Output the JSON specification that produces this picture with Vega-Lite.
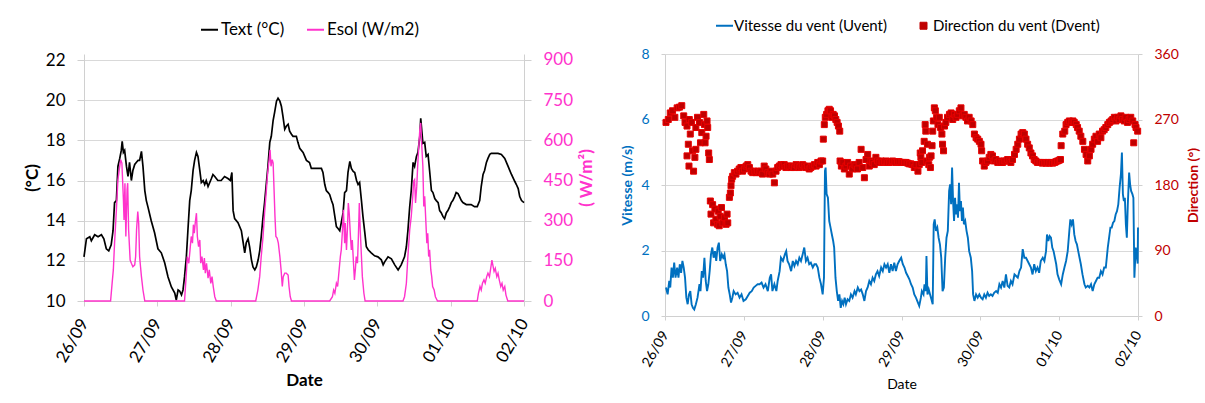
{
  "$schema": "https://vega.github.io/schema/vega-lite/v6.json",
  "padding": {"left": 23, "top": 18, "right": 4, "bottom": 4},
  "background": "white",
  "config": {
    "font": "Lato",
    "view": {"stroke": null},
    "axis": {"gridColor": "#d9d9d9", "domainColor": "#d0d0d0", "tickColor": "#d0d0d0", "labelColor": "#000000", "titleColor": "#000000"}
  },
  "datasets": {
    "temp": [
      {"h":0,"T":12.2},{"h":0.8,"T":13.1},{"h":1.9,"T":13.2},{"h":2.4,"T":13.0},{"h":3.5,"T":13.3},{"h":4.6,"T":13.2},{"h":5.7,"T":13.3},{"h":6.5,"T":13.1},{"h":7.3,"T":12.6},{"h":8.1,"T":12.5},{"h":8.9,"T":12.8},{"h":9.5,"T":13.5},{"h":10.0,"T":14.9},{"h":10.6,"T":15.0},{"h":11.1,"T":16.7},{"h":11.7,"T":17.1},{"h":12.2,"T":17.5},{"h":12.5,"T":17.95},{"h":12.9,"T":17.4},{"h":13.3,"T":17.5},{"h":13.9,"T":16.7},{"h":14.4,"T":16.2},{"h":14.9,"T":16.9},{"h":15.5,"T":16.0},{"h":16.0,"T":16.5},{"h":16.6,"T":16.8},{"h":17.1,"T":16.9},{"h":17.7,"T":17.0},{"h":18.2,"T":17.0},{"h":18.8,"T":17.45},{"h":19.3,"T":16.7},{"h":19.9,"T":15.5},{"h":20.4,"T":15.0},{"h":20.9,"T":14.7},{"h":22.0,"T":14.0},{"h":23.1,"T":13.4},{"h":24.2,"T":12.6},{"h":25.3,"T":12.4},{"h":26.4,"T":11.9},{"h":27.5,"T":11.2},{"h":28.6,"T":10.7},{"h":29.7,"T":10.4},{"h":30.2,"T":10.05},{"h":30.8,"T":10.55},{"h":31.3,"T":10.5},{"h":31.9,"T":10.3},{"h":32.4,"T":10.55},{"h":32.9,"T":11.2},{"h":33.5,"T":12.2},{"h":34.0,"T":13.5},{"h":34.6,"T":15.0},{"h":35.1,"T":15.5},{"h":35.7,"T":16.5},{"h":36.2,"T":17.0},{"h":36.8,"T":17.4},{"h":37.3,"T":17.2},{"h":37.9,"T":16.5},{"h":38.4,"T":15.9},{"h":39.0,"T":16.0},{"h":39.5,"T":15.8},{"h":40.0,"T":16.0},{"h":40.6,"T":15.7},{"h":41.7,"T":16.1},{"h":42.2,"T":16.3},{"h":42.8,"T":16.2},{"h":43.8,"T":16.0},{"h":44.9,"T":16.0},{"h":46.0,"T":16.2},{"h":47.1,"T":16.1},{"h":47.9,"T":16.0},{"h":48.4,"T":16.4},{"h":48.8,"T":14.5},{"h":49.3,"T":14.1},{"h":50.4,"T":13.9},{"h":51.5,"T":13.5},{"h":52.0,"T":13.0},{"h":52.6,"T":12.4},{"h":53.1,"T":12.9},{"h":53.7,"T":13.1},{"h":54.2,"T":12.7},{"h":54.8,"T":12.05},{"h":55.3,"T":11.7},{"h":55.9,"T":11.55},{"h":56.4,"T":11.7},{"h":57.0,"T":12.05},{"h":57.5,"T":12.5},{"h":58.0,"T":13.2},{"h":58.6,"T":14.2},{"h":59.1,"T":14.9},{"h":59.7,"T":15.9},{"h":60.2,"T":16.7},{"h":60.8,"T":17.9},{"h":61.3,"T":18.2},{"h":61.9,"T":19.0},{"h":62.4,"T":19.4},{"h":63.0,"T":19.95},{"h":63.5,"T":20.1},{"h":64.1,"T":19.95},{"h":64.6,"T":19.7},{"h":65.1,"T":19.2},{"h":65.7,"T":18.55},{"h":66.2,"T":18.7},{"h":66.8,"T":18.8},{"h":67.3,"T":18.45},{"h":67.9,"T":18.3},{"h":68.4,"T":18.2},{"h":69.5,"T":18.2},{"h":70.0,"T":17.9},{"h":70.6,"T":17.6},{"h":71.7,"T":17.4},{"h":72.8,"T":17.0},{"h":73.8,"T":16.9},{"h":74.4,"T":16.6},{"h":77.7,"T":16.6},{"h":78.2,"T":16.4},{"h":78.8,"T":15.8},{"h":79.3,"T":15.5},{"h":79.9,"T":15.4},{"h":80.4,"T":15.3},{"h":81.0,"T":15.0},{"h":81.5,"T":14.8},{"h":82.1,"T":14.2},{"h":82.6,"T":13.7},{"h":83.2,"T":13.6},{"h":83.7,"T":13.5},{"h":84.2,"T":13.9},{"h":84.8,"T":14.4},{"h":85.3,"T":15.4},{"h":85.9,"T":15.5},{"h":86.4,"T":16.4},{"h":87.0,"T":16.95},{"h":87.5,"T":16.6},{"h":88.1,"T":16.45},{"h":88.6,"T":16.4},{"h":89.2,"T":16.0},{"h":89.7,"T":15.8},{"h":90.2,"T":15.9},{"h":90.8,"T":15.0},{"h":91.3,"T":14.2},{"h":91.9,"T":13.4},{"h":92.4,"T":12.7},{"h":93.0,"T":12.55},{"h":94.0,"T":12.4},{"h":95.1,"T":12.25},{"h":96.2,"T":12.2},{"h":97.3,"T":12.05},{"h":97.9,"T":11.8},{"h":98.4,"T":11.95},{"h":99.5,"T":12.2},{"h":100.6,"T":12.1},{"h":101.7,"T":11.8},{"h":102.8,"T":11.55},{"h":103.8,"T":11.8},{"h":104.9,"T":12.2},{"h":105.5,"T":12.7},{"h":106.0,"T":13.5},{"h":106.6,"T":14.7},{"h":107.1,"T":15.5},{"h":107.7,"T":16.9},{"h":108.2,"T":16.7},{"h":108.8,"T":17.2},{"h":109.3,"T":17.4},{"h":109.9,"T":18.2},{"h":110.2,"T":19.1},{"h":110.6,"T":18.4},{"h":110.9,"T":17.85},{"h":111.5,"T":17.9},{"h":112.0,"T":17.2},{"h":112.6,"T":17.3},{"h":113.1,"T":16.5},{"h":113.7,"T":15.5},{"h":114.2,"T":15.4},{"h":114.8,"T":15.1},{"h":115.3,"T":15.0},{"h":115.9,"T":14.9},{"h":116.4,"T":14.5},{"h":116.9,"T":14.4},{"h":117.5,"T":14.2},{"h":118.0,"T":14.1},{"h":118.6,"T":14.4},{"h":119.1,"T":14.5},{"h":119.7,"T":14.7},{"h":120.2,"T":14.9},{"h":120.7,"T":15.0},{"h":121.3,"T":15.2},{"h":121.8,"T":15.4},{"h":122.4,"T":15.35},{"h":122.9,"T":15.2},{"h":123.5,"T":15.0},{"h":124.0,"T":14.9},{"h":125.1,"T":14.8},{"h":126.7,"T":14.8},{"h":127.8,"T":14.7},{"h":128.7,"T":14.7},{"h":129.5,"T":15.0},{"h":130.0,"T":15.7},{"h":130.6,"T":16.3},{"h":131.1,"T":16.5},{"h":131.7,"T":16.9},{"h":132.2,"T":17.1},{"h":132.8,"T":17.3},{"h":133.3,"T":17.35},{"h":135.5,"T":17.35},{"h":136.6,"T":17.3},{"h":137.7,"T":17.1},{"h":138.8,"T":16.7},{"h":139.9,"T":16.3},{"h":141.0,"T":15.95},{"h":141.5,"T":15.8},{"h":142.1,"T":15.6},{"h":142.6,"T":15.2},{"h":143.2,"T":15.0},{"h":144.0,"T":14.9}
    ],
    "esol": [
      {"h":0,"E":0},{"h":8.7,"E":0},{"h":9.2,"E":66},{"h":9.6,"E":116},{"h":10.0,"E":216},{"h":10.6,"E":340},{"h":11.1,"E":453},{"h":11.7,"E":503},{"h":12.0,"E":528},{"h":12.4,"E":515},{"h":12.9,"E":378},{"h":13.1,"E":303},{"h":13.4,"E":440},{"h":13.7,"E":241},{"h":14.1,"E":416},{"h":14.3,"E":440},{"h":14.6,"E":266},{"h":15.1,"E":153},{"h":15.5,"E":141},{"h":16.0,"E":128},{"h":16.6,"E":135},{"h":16.9,"E":166},{"h":17.2,"E":266},{"h":17.6,"E":334},{"h":17.9,"E":291},{"h":18.2,"E":166},{"h":18.5,"E":128},{"h":18.8,"E":91},{"h":19.3,"E":41},{"h":19.9,"E":0},
      {"h":32.9,"E":0},{"h":33.5,"E":104},{"h":33.8,"E":166},{"h":34.3,"E":141},{"h":34.7,"E":191},{"h":35.1,"E":241},{"h":35.5,"E":216},{"h":35.8,"E":285},{"h":36.1,"E":253},{"h":36.4,"E":291},{"h":36.8,"E":328},{"h":37.1,"E":241},{"h":37.5,"E":203},{"h":37.9,"E":228},{"h":38.2,"E":141},{"h":38.6,"E":166},{"h":39.1,"E":116},{"h":39.4,"E":160},{"h":39.7,"E":104},{"h":40.1,"E":141},{"h":40.6,"E":85},{"h":41.0,"E":116},{"h":41.5,"E":66},{"h":41.9,"E":91},{"h":42.3,"E":54},{"h":42.8,"E":16},{"h":43.3,"E":0},
      {"h":56.2,"E":0},{"h":56.9,"E":41},{"h":57.5,"E":91},{"h":58.0,"E":166},{"h":58.6,"E":241},{"h":59.1,"E":328},{"h":59.7,"E":416},{"h":60.1,"E":478},{"h":60.6,"E":528},{"h":60.9,"E":565},{"h":61.2,"E":503},{"h":61.6,"E":528},{"h":61.9,"E":515},{"h":62.2,"E":416},{"h":62.5,"E":316},{"h":62.8,"E":241},{"h":63.2,"E":235},{"h":63.6,"E":216},{"h":64.1,"E":166},{"h":64.5,"E":116},{"h":64.9,"E":54},{"h":65.2,"E":91},{"h":65.7,"E":104},{"h":66.2,"E":104},{"h":66.8,"E":97},{"h":67.1,"E":54},{"h":67.5,"E":16},{"h":67.9,"E":0},
      {"h":80.4,"E":0},{"h":81.3,"E":16},{"h":81.7,"E":41},{"h":82.1,"E":29},{"h":82.6,"E":66},{"h":83.0,"E":54},{"h":83.5,"E":116},{"h":83.9,"E":166},{"h":84.2,"E":191},{"h":84.6,"E":266},{"h":84.9,"E":341},{"h":85.3,"E":216},{"h":85.5,"E":291},{"h":85.9,"E":191},{"h":86.2,"E":266},{"h":86.5,"E":366},{"h":86.8,"E":328},{"h":87.2,"E":241},{"h":87.5,"E":191},{"h":87.8,"E":228},{"h":88.2,"E":141},{"h":88.5,"E":79},{"h":88.8,"E":116},{"h":89.1,"E":166},{"h":89.5,"E":141},{"h":89.8,"E":241},{"h":90.1,"E":366},{"h":90.4,"E":266},{"h":90.8,"E":166},{"h":91.1,"E":91},{"h":91.6,"E":29},{"h":92.0,"E":0},
      {"h":104.4,"E":0},{"h":104.9,"E":16},{"h":105.5,"E":66},{"h":106.0,"E":166},{"h":106.6,"E":266},{"h":107.1,"E":316},{"h":107.6,"E":391},{"h":107.9,"E":447},{"h":108.2,"E":453},{"h":108.5,"E":366},{"h":108.9,"E":428},{"h":109.2,"E":503},{"h":109.5,"E":565},{"h":109.9,"E":640},{"h":110.2,"E":665},{"h":110.5,"E":590},{"h":110.9,"E":503},{"h":111.2,"E":353},{"h":111.5,"E":391},{"h":111.9,"E":291},{"h":112.2,"E":216},{"h":112.5,"E":253},{"h":112.8,"E":166},{"h":113.1,"E":191},{"h":113.5,"E":116},{"h":113.8,"E":91},{"h":114.1,"E":54},{"h":114.6,"E":41},{"h":115.0,"E":16},{"h":115.7,"E":0},
      {"h":128.7,"E":0},{"h":129.1,"E":29},{"h":129.6,"E":54},{"h":130.0,"E":41},{"h":130.4,"E":66},{"h":130.9,"E":79},{"h":131.3,"E":66},{"h":131.8,"E":91},{"h":132.2,"E":104},{"h":132.7,"E":91},{"h":133.1,"E":122},{"h":133.5,"E":153},{"h":133.9,"E":128},{"h":134.2,"E":110},{"h":134.6,"E":122},{"h":135.1,"E":91},{"h":135.5,"E":104},{"h":135.9,"E":79},{"h":136.4,"E":54},{"h":136.8,"E":66},{"h":137.2,"E":41},{"h":137.7,"E":54},{"h":138.1,"E":22},{"h":138.7,"E":0},{"h":144,"E":0}
    ],
    "vit": [
      {"h":0.3,"V":0.87},{"h":0.8,"V":0.66},{"h":1.3,"V":1.07},{"h":1.6,"V":0.87},{"h":2.0,"V":1.48},{"h":2.4,"V":1.17},{"h":2.8,"V":1.63},{"h":3.2,"V":1.17},{"h":3.7,"V":1.48},{"h":4.1,"V":1.17},{"h":4.5,"V":1.58},{"h":4.9,"V":1.32},{"h":5.3,"V":1.68},{"h":5.7,"V":1.48},{"h":6.1,"V":1.17},{"h":6.5,"V":0.56},{"h":6.9,"V":0.36},{"h":7.3,"V":0.66},{"h":7.7,"V":0.76},{"h":8.1,"V":0.36},{"h":8.5,"V":0.25},{"h":8.9,"V":0.2},{"h":9.4,"V":0.36},{"h":9.9,"V":0.56},{"h":10.5,"V":0.97},{"h":10.8,"V":0.76},{"h":11.2,"V":1.37},{"h":11.6,"V":1.17},{"h":12.0,"V":1.78},{"h":12.4,"V":1.07},{"h":12.8,"V":0.76},{"h":13.2,"V":0.97},{"h":13.6,"V":1.37},{"h":14.0,"V":1.88},{"h":14.4,"V":2.09},{"h":14.8,"V":1.78},{"h":15.2,"V":1.98},{"h":15.6,"V":1.68},{"h":16.0,"V":2.09},{"h":16.4,"V":2.24},{"h":16.8,"V":1.68},{"h":17.3,"V":1.88},{"h":17.7,"V":1.78},{"h":18.1,"V":1.88},{"h":18.5,"V":1.58},{"h":18.9,"V":1.37},{"h":19.3,"V":0.87},{"h":19.7,"V":0.66},{"h":20.1,"V":0.41},{"h":20.5,"V":0.56},{"h":20.9,"V":0.76},{"h":21.5,"V":0.66},{"h":22.1,"V":0.71},{"h":22.7,"V":0.56},{"h":23.3,"V":0.66},{"h":23.9,"V":0.46},{"h":24.6,"V":0.51},{"h":25.2,"V":0.61},{"h":25.8,"V":0.71},{"h":26.4,"V":0.76},{"h":27.0,"V":0.87},{"h":27.6,"V":0.92},{"h":28.2,"V":0.97},{"h":28.8,"V":0.97},{"h":29.4,"V":1.02},{"h":30.0,"V":0.87},{"h":30.6,"V":0.97},{"h":31.3,"V":0.76},{"h":31.9,"V":1.17},{"h":32.3,"V":1.27},{"h":32.7,"V":0.76},{"h":33.3,"V":0.97},{"h":33.9,"V":0.76},{"h":34.3,"V":1.07},{"h":34.9,"V":1.37},{"h":35.3,"V":1.78},{"h":35.9,"V":1.68},{"h":36.5,"V":1.88},{"h":36.9,"V":1.98},{"h":37.3,"V":1.68},{"h":37.8,"V":1.58},{"h":38.4,"V":1.37},{"h":38.9,"V":1.68},{"h":39.4,"V":1.53},{"h":39.9,"V":1.68},{"h":40.4,"V":1.58},{"h":40.9,"V":1.78},{"h":41.4,"V":1.68},{"h":41.9,"V":1.88},{"h":42.4,"V":2.09},{"h":42.9,"V":1.68},{"h":43.4,"V":1.78},{"h":43.9,"V":1.58},{"h":44.4,"V":1.63},{"h":45.0,"V":1.48},{"h":45.5,"V":1.58},
      {"h":46.0,"V":1.58},{"h":46.5,"V":1.48},{"h":47.0,"V":1.17},{"h":47.5,"V":0.97},{"h":48.0,"V":0.66},{"h":48.4,"V":1.17},{"h":48.7,"V":4.43},{"h":48.9,"V":4.53},{"h":49.2,"V":3.72},{"h":49.6,"V":3.61},{"h":50.0,"V":2.9},{"h":50.4,"V":2.7},{"h":50.8,"V":2.49},{"h":51.2,"V":2.29},{"h":51.5,"V":2.09},{"h":51.9,"V":1.17},{"h":52.3,"V":0.76},{"h":52.7,"V":0.46},{"h":53.1,"V":0.66},{"h":53.5,"V":0.25},{"h":53.9,"V":0.46},{"h":54.3,"V":0.36},{"h":54.7,"V":0.56},{"h":55.1,"V":0.36},{"h":55.6,"V":0.51},{"h":56.1,"V":0.46},{"h":56.6,"V":0.66},{"h":57.1,"V":0.56},{"h":57.7,"V":0.76},{"h":58.1,"V":0.66},{"h":58.7,"V":0.87},{"h":59.2,"V":0.76},{"h":59.7,"V":0.81},{"h":60.2,"V":0.66},{"h":60.7,"V":0.46},{"h":61.2,"V":0.76},{"h":61.7,"V":0.87},{"h":62.2,"V":1.07},{"h":62.7,"V":0.97},{"h":63.2,"V":1.17},{"h":63.7,"V":1.07},{"h":64.2,"V":1.27},{"h":64.7,"V":1.37},{"h":65.2,"V":1.22},{"h":65.8,"V":1.48},{"h":66.3,"V":1.37},{"h":66.8,"V":1.58},{"h":67.3,"V":1.48},{"h":67.8,"V":1.58},{"h":68.3,"V":1.32},{"h":68.8,"V":1.58},{"h":69.3,"V":1.37},{"h":69.8,"V":1.63},{"h":70.3,"V":1.37},{"h":70.8,"V":1.58},{"h":71.3,"V":1.68},{"h":71.9,"V":1.78},{"h":72.4,"V":1.58},{"h":72.9,"V":1.48},{"h":73.4,"V":1.32},{"h":73.9,"V":1.22},{"h":74.4,"V":1.12},{"h":74.9,"V":0.97},{"h":75.4,"V":0.87},{"h":75.9,"V":0.66},{"h":76.4,"V":0.56},{"h":77.0,"V":0.41},{"h":77.4,"V":0.31},{"h":77.9,"V":0.56},{"h":78.2,"V":0.76},{"h":78.7,"V":0.66},{"h":79.0,"V":0.97},{"h":79.4,"V":0.76},{"h":79.6,"V":1.83},{"h":79.9,"V":0.66},{"h":80.3,"V":0.81},{"h":80.7,"V":0.66},{"h":81.1,"V":0.51},{"h":81.5,"V":0.36},{"h":81.8,"V":2.8},{"h":82.1,"V":2.95},{"h":82.5,"V":2.6},{"h":82.9,"V":2.7},{"h":83.3,"V":2.39},{"h":83.7,"V":2.19},{"h":84.1,"V":1.78},{"h":84.5,"V":0.76},{"h":84.9,"V":0.87},{"h":85.3,"V":1.78},{"h":85.7,"V":2.39},{"h":86.1,"V":2.6},{"h":86.5,"V":3.82},{"h":86.8,"V":4.02},{"h":87.1,"V":3.41},{"h":87.4,"V":4.53},{"h":87.7,"V":3.51},{"h":88.0,"V":2.9},{"h":88.3,"V":3.61},{"h":88.6,"V":3.1},{"h":88.9,"V":3.41},{"h":89.2,"V":3.0},{"h":89.5,"V":4.07},{"h":89.8,"V":3.2},{"h":90.1,"V":3.51},{"h":90.4,"V":2.9},{"h":90.7,"V":3.31},{"h":91.0,"V":2.8},{"h":91.4,"V":2.9},{"h":91.8,"V":2.6},{"h":92.2,"V":2.39},{"h":92.6,"V":1.98},{"h":93.1,"V":1.78},{"h":93.5,"V":1.37},
      {"h":93.8,"V":0.66},{"h":94.2,"V":0.46},{"h":94.7,"V":0.66},{"h":95.2,"V":0.56},{"h":95.7,"V":0.66},{"h":96.2,"V":0.56},{"h":96.7,"V":0.51},{"h":97.2,"V":0.66},{"h":97.7,"V":0.56},{"h":98.2,"V":0.71},{"h":98.7,"V":0.61},{"h":99.2,"V":0.66},{"h":99.7,"V":0.61},{"h":100.2,"V":0.71},{"h":100.8,"V":0.76},{"h":101.3,"V":0.71},{"h":101.8,"V":0.97},{"h":102.3,"V":0.87},{"h":102.8,"V":1.07},{"h":103.3,"V":0.87},{"h":103.8,"V":1.27},{"h":104.3,"V":0.92},{"h":104.8,"V":0.87},{"h":105.3,"V":1.07},{"h":105.8,"V":0.97},{"h":106.4,"V":1.27},{"h":106.9,"V":1.22},{"h":107.4,"V":1.17},{"h":107.9,"V":1.37},{"h":108.4,"V":1.48},{"h":108.9,"V":2.04},{"h":109.4,"V":1.78},{"h":109.9,"V":1.78},{"h":110.4,"V":1.68},{"h":110.9,"V":1.58},{"h":111.4,"V":1.48},{"h":111.9,"V":1.27},{"h":112.4,"V":1.58},{"h":112.9,"V":1.37},{"h":113.4,"V":1.48},{"h":113.9,"V":1.32},{"h":114.4,"V":1.68},{"h":115.0,"V":1.78},{"h":115.5,"V":1.68},{"h":116.0,"V":1.98},{"h":116.3,"V":2.49},{"h":116.7,"V":2.29},{"h":117.1,"V":2.44},{"h":117.5,"V":2.39},{"h":117.9,"V":2.09},{"h":118.3,"V":1.98},{"h":118.7,"V":1.78},{"h":119.1,"V":1.58},{"h":119.5,"V":1.27},{"h":120.0,"V":1.12},{"h":120.6,"V":0.97},{"h":121.1,"V":1.27},{"h":121.6,"V":1.48},{"h":122.1,"V":1.68},{"h":122.6,"V":1.98},{"h":123.1,"V":2.6},{"h":123.4,"V":2.95},{"h":123.8,"V":2.8},{"h":124.2,"V":2.95},{"h":124.6,"V":2.49},{"h":125.0,"V":2.29},{"h":125.4,"V":2.19},{"h":125.8,"V":1.98},{"h":126.2,"V":1.78},{"h":126.6,"V":1.58},{"h":127.1,"V":1.27},{"h":127.7,"V":0.97},{"h":128.1,"V":0.87},{"h":128.7,"V":0.92},{"h":129.2,"V":0.87},{"h":129.7,"V":0.97},{"h":130.2,"V":0.76},{"h":130.7,"V":0.97},{"h":131.2,"V":1.07},{"h":131.7,"V":1.17},{"h":132.2,"V":1.17},{"h":132.7,"V":1.37},{"h":133.2,"V":1.27},{"h":133.7,"V":1.48},{"h":134.2,"V":1.48},{"h":134.8,"V":2.09},{"h":135.2,"V":2.39},{"h":135.6,"V":2.7},{"h":136.0,"V":2.7},{"h":136.4,"V":2.85},{"h":136.8,"V":2.9},{"h":137.2,"V":3.1},{"h":137.6,"V":3.2},{"h":138.0,"V":3.41},{"h":138.4,"V":3.92},{"h":138.8,"V":4.33},{"h":139.1,"V":4.99},{"h":139.4,"V":3.72},{"h":139.7,"V":3.51},{"h":140.0,"V":3.61},{"h":140.3,"V":2.8},{"h":140.6,"V":2.39},{"h":140.9,"V":3.41},{"h":141.3,"V":4.38},{"h":141.6,"V":4.02},{"h":141.9,"V":3.82},{"h":142.3,"V":3.72},{"h":142.6,"V":3.61},{"h":142.9,"V":1.17},{"h":143.3,"V":2.09},{"h":143.6,"V":1.88},{"h":143.9,"V":1.6},{"h":144.0,"V":2.7}
    ],
    "dir": [
      {"h":0.3,"D":266},{"h":1.0,"D":270},{"h":1.6,"D":279},{"h":2.3,"D":282},{"h":3.0,"D":273},{"h":3.7,"D":286},{"h":4.4,"D":287},{"h":5.1,"D":289},{"h":5.7,"D":275},{"h":6.1,"D":266},{"h":6.7,"D":261},{"h":7.1,"D":236},{"h":6.7,"D":220},{"h":7.4,"D":270},{"h":7.7,"D":250},{"h":8.1,"D":266},{"h":8.4,"D":227},{"h":8.7,"D":199},{"h":9.1,"D":218},{"h":7.3,"D":206},{"h":9.4,"D":259},{"h":9.9,"D":273},{"h":10.5,"D":266},{"h":10.8,"D":238},{"h":11.2,"D":252},{"h":11.8,"D":277},{"h":12.0,"D":263},{"h":12.5,"D":247},{"h":12.8,"D":268},{"h":13.0,"D":259},{"h":13.3,"D":224},{"h":13.5,"D":215},{"h":12.2,"D":238},{"h":9.4,"D":229},
      {"h":13.8,"D":158},{"h":14.0,"D":140},{"h":14.5,"D":153},{"h":14.8,"D":128},{"h":15.2,"D":147},{"h":15.5,"D":133},{"h":16.0,"D":126},{"h":16.2,"D":144},{"h":16.5,"D":124},{"h":16.8,"D":137},{"h":17.2,"D":149},{"h":17.6,"D":128},{"h":18.1,"D":135},{"h":18.6,"D":126},{"h":18.9,"D":140},{"h":19.1,"D":128},
      {"h":19.6,"D":163},{"h":19.9,"D":169},{"h":20.1,"D":179},{"h":20.3,"D":188},{"h":20.6,"D":192},{"h":21.1,"D":197},{"h":21.6,"D":195},{"h":22.1,"D":199},{"h":22.6,"D":202},{"h":23.1,"D":204},{"h":23.6,"D":199},{"h":24.2,"D":202},{"h":24.7,"D":206},{"h":25.2,"D":208},{"h":25.7,"D":204},{"h":26.2,"D":199},{"h":26.7,"D":197},{"h":27.2,"D":199},{"h":27.7,"D":197},{"h":28.2,"D":199},{"h":28.7,"D":197},{"h":29.2,"D":199},{"h":29.7,"D":195},{"h":30.2,"D":206},{"h":30.7,"D":202},{"h":31.3,"D":197},{"h":31.8,"D":195},{"h":32.3,"D":199},{"h":32.8,"D":195},{"h":33.3,"D":183},{"h":33.8,"D":199},{"h":34.3,"D":204},{"h":34.8,"D":206},{"h":35.3,"D":208},{"h":35.8,"D":206},{"h":36.3,"D":208},{"h":36.8,"D":204},{"h":37.3,"D":206},{"h":37.8,"D":206},{"h":38.4,"D":204},{"h":38.9,"D":206},{"h":39.4,"D":204},{"h":39.9,"D":208},{"h":40.4,"D":206},{"h":40.9,"D":204},{"h":41.4,"D":206},{"h":41.9,"D":208},{"h":42.4,"D":206},{"h":42.9,"D":204},{"h":43.4,"D":206},{"h":43.9,"D":202},{"h":44.4,"D":204},{"h":45.0,"D":206},{"h":45.5,"D":208},{"h":46.0,"D":206},{"h":46.5,"D":211},{"h":47.0,"D":208},{"h":47.5,"D":213},
      {"h":48.0,"D":213},{"h":48.2,"D":243},{"h":48.5,"D":263},{"h":48.8,"D":273},{"h":49.2,"D":277},{"h":49.6,"D":282},{"h":50.0,"D":284},{"h":50.4,"D":282},{"h":50.8,"D":273},{"h":51.2,"D":277},{"h":51.6,"D":275},{"h":52.0,"D":270},{"h":52.4,"D":266},{"h":52.8,"D":261},{"h":53.2,"D":254},
      {"h":53.3,"D":213},{"h":53.7,"D":206},{"h":54.1,"D":211},{"h":54.6,"D":202},{"h":55.1,"D":206},{"h":55.6,"D":211},{"h":56.1,"D":195},{"h":56.5,"D":206},{"h":57.1,"D":202},{"h":57.6,"D":208},{"h":58.1,"D":206},{"h":58.6,"D":202},{"h":59.1,"D":211},{"h":59.7,"D":229},{"h":60.2,"D":204},{"h":60.7,"D":190},{"h":61.2,"D":215},{"h":61.7,"D":222},{"h":62.2,"D":206},{"h":62.7,"D":213},{"h":63.2,"D":211},{"h":63.7,"D":208},{"h":64.2,"D":218},{"h":64.7,"D":213},{"h":65.2,"D":211},{"h":65.8,"D":213},{"h":66.3,"D":211},{"h":66.8,"D":212},{"h":67.3,"D":213},{"h":67.8,"D":211},{"h":68.3,"D":211},{"h":68.8,"D":212},{"h":69.3,"D":213},{"h":69.8,"D":212},{"h":70.3,"D":211},{"h":70.8,"D":212},{"h":71.3,"D":212},{"h":71.9,"D":211},{"h":72.4,"D":211},{"h":72.9,"D":211},{"h":73.4,"D":211},{"h":73.9,"D":210},{"h":74.4,"D":209},{"h":74.9,"D":209},{"h":75.4,"D":208},{"h":75.9,"D":204},{"h":76.4,"D":208},{"h":77.0,"D":199},{"h":77.4,"D":208},{"h":77.7,"D":224},{"h":77.9,"D":218},{"h":78.2,"D":211},{"h":78.4,"D":227},{"h":78.9,"D":240},{"h":79.2,"D":263},{"h":79.4,"D":254},{"h":79.7,"D":213},{"h":79.9,"D":236},{"h":80.3,"D":208},{"h":80.5,"D":218},{"h":80.8,"D":204},{"h":81.0,"D":220},{"h":81.3,"D":234},{"h":81.5,"D":254},{"h":81.7,"D":268},{"h":82.0,"D":286},{"h":82.3,"D":282},{"h":82.7,"D":273},{"h":83.1,"D":263},{"h":83.5,"D":273},{"h":83.9,"D":259},{"h":84.3,"D":250},{"h":84.5,"D":236},{"h":84.8,"D":227},{"h":85.1,"D":261},{"h":85.5,"D":266},{"h":86.0,"D":273},{"h":86.6,"D":277},{"h":87.1,"D":279},{"h":87.6,"D":270},{"h":88.1,"D":277},{"h":88.6,"D":273},{"h":89.1,"D":277},{"h":89.6,"D":282},{"h":90.1,"D":286},{"h":90.6,"D":275},{"h":91.1,"D":277},{"h":91.6,"D":273},{"h":92.1,"D":268},{"h":92.6,"D":273},
      {"h":93.2,"D":268},{"h":93.7,"D":263},{"h":94.2,"D":250},{"h":94.7,"D":245},{"h":95.2,"D":243},{"h":95.7,"D":240},{"h":96.2,"D":236},{"h":96.4,"D":227},{"h":96.7,"D":213},{"h":97.2,"D":206},{"h":97.7,"D":211},{"h":98.2,"D":213},{"h":98.7,"D":218},{"h":99.2,"D":222},{"h":99.7,"D":220},{"h":100.2,"D":213},{"h":100.7,"D":215},{"h":101.3,"D":211},{"h":101.8,"D":213},{"h":102.3,"D":211},{"h":102.8,"D":211},{"h":103.3,"D":213},{"h":103.8,"D":213},{"h":104.3,"D":215},{"h":104.8,"D":213},{"h":105.3,"D":211},{"h":105.8,"D":215},{"h":106.4,"D":222},{"h":106.9,"D":229},{"h":107.4,"D":236},{"h":107.9,"D":243},{"h":108.4,"D":250},{"h":108.9,"D":252},{"h":109.4,"D":250},{"h":109.9,"D":243},{"h":110.4,"D":236},{"h":110.9,"D":231},{"h":111.4,"D":224},{"h":111.9,"D":220},{"h":112.4,"D":215},{"h":112.9,"D":213},{"h":113.4,"D":211},{"h":113.9,"D":211},{"h":114.4,"D":211},{"h":114.9,"D":210},{"h":115.5,"D":211},{"h":116.0,"D":210},{"h":116.5,"D":211},{"h":117.0,"D":210},{"h":117.5,"D":211},{"h":118.0,"D":210},{"h":118.6,"D":211},{"h":119.0,"D":212},{"h":119.5,"D":213},{"h":120.0,"D":214},{"h":120.4,"D":215},{"h":120.6,"D":234},{"h":121.1,"D":250},{"h":121.7,"D":254},{"h":122.1,"D":263},{"h":122.6,"D":266},{"h":123.1,"D":268},{"h":123.7,"D":266},{"h":124.2,"D":268},{"h":124.6,"D":266},{"h":125.2,"D":263},{"h":125.6,"D":259},{"h":126.1,"D":254},{"h":126.6,"D":247},{"h":127.2,"D":240},{"h":127.7,"D":229},{"h":128.2,"D":222},{"h":128.7,"D":213},{"h":129.2,"D":220},{"h":129.7,"D":229},{"h":130.2,"D":236},{"h":130.7,"D":243},{"h":131.2,"D":247},{"h":131.7,"D":240},{"h":132.2,"D":250},{"h":132.7,"D":245},{"h":133.2,"D":254},{"h":133.7,"D":256},{"h":134.2,"D":259},{"h":134.8,"D":263},{"h":135.3,"D":266},{"h":135.8,"D":268},{"h":136.3,"D":270},{"h":136.8,"D":273},{"h":137.3,"D":268},{"h":137.8,"D":273},{"h":138.3,"D":270},{"h":138.8,"D":275},{"h":139.3,"D":270},{"h":139.8,"D":268},{"h":140.3,"D":273},{"h":140.8,"D":266},{"h":141.3,"D":270},{"h":141.8,"D":273},{"h":142.4,"D":268},{"h":142.7,"D":238},{"h":143.1,"D":263},{"h":143.4,"D":259},{"h":143.9,"D":254}
    ]
  },
  "bounds": "flush",
  "spacing": 141,
  "resolve": {"scale": {"color": "independent"}, "legend": {"color": "independent"}},
  "hconcat": [
    {
      "width": 440,
      "height": 247,
      "layer": [
        {
          "data": {"name": "temp"},
          "mark": {"type": "line", "strokeWidth": 1.7},
          "encoding": {
            "x": {"field": "h", "type": "quantitative", "scale": {"domain": [0, 144], "nice": false, "zero": false},
              "axis": {"values": [0, 24, 48, 72, 96, 120, 144], "labelExpr": "['26/09','27/09','28/09','29/09','30/09','01/10','02/10'][round(datum.value/24)]", "labelAngle": -60, "labelAlign": "right", "labelBaseline": "middle", "labelFontSize": 17, "labelPadding": 14, "tickSize": 5, "grid": false, "title": "Date", "titleFontSize": 17, "titleFontWeight": "bold", "titlePadding": 8}},
            "y": {"field": "T", "type": "quantitative", "scale": {"domain": [10, 22.299], "nice": false, "zero": false},
              "axis": {"orient": "left", "values": [10, 12, 14, 16, 18, 20, 22], "labelFontSize": 17, "tickSize": 7, "labelPadding": 12, "grid": true, "title": "(°C)", "titleFontSize": 17, "titleFontWeight": "bold", "titlePadding": 4}},
            "color": {"datum": "Text (°C)", "type": "nominal",
              "scale": {"domain": ["Text (°C)", "Esol (W/m2)"], "range": ["#000000", "#ff33cc"]},
              "legend": {"orient": "none", "legendX": 116, "legendY": -34, "direction": "horizontal", "title": null, "labelFontSize": 17, "labelLimit": 400, "labelColor": "#000000", "symbolType": "stroke", "symbolSize": 289, "symbolStrokeWidth": 2, "labelOffset": 2, "columnPadding": 18}}
          }
        },
        {
          "data": {"name": "esol"},
          "mark": {"type": "line", "strokeWidth": 1.4},
          "encoding": {
            "x": {"field": "h", "type": "quantitative"},
            "y": {"field": "E", "type": "quantitative", "scale": {"domain": [0, 922.4], "nice": false},
              "axis": {"orient": "right", "values": [0, 150, 300, 450, 600, 750, 900], "labelFontSize": 17, "labelColor": "#ff33cc", "tickSize": 7, "labelPadding": 12, "grid": false, "title": "( W/m²)", "titleColor": "#ff33cc", "titleFontSize": 17, "titleFontWeight": "bold", "titleAngle": 270, "titleBaseline": "top", "titlePadding": 6}},
            "color": {"datum": "Esol (W/m2)", "type": "nominal"}
          }
        }
      ],
      "resolve": {"scale": {"y": "independent"}}
    },
    {
      "width": 473,
      "height": 262,
      "layer": [
        {
          "data": {"name": "vit"},
          "mark": {"type": "line", "strokeWidth": 1.9},
          "encoding": {
            "x": {"field": "h", "type": "quantitative", "scale": {"domain": [0, 144], "nice": false, "zero": false},
              "axis": {"values": [0, 24, 48, 72, 96, 120, 144], "labelExpr": "['26/09','27/09','28/09','29/09','30/09','01/10','02/10'][round(datum.value/24)]", "labelAngle": -60, "labelAlign": "right", "labelBaseline": "middle", "labelFontSize": 14, "labelPadding": 12, "tickSize": 4, "grid": false, "title": "Date", "titleFontSize": 14, "titleFontWeight": "normal", "titlePadding": 8}},
            "y": {"field": "V", "type": "quantitative", "scale": {"domain": [0, 8], "nice": false},
              "axis": {"orient": "left", "values": [0, 2, 4, 6, 8], "labelFontSize": 14, "labelColor": "#0070c0", "tickSize": 4, "labelPadding": 12, "grid": true, "title": "Vitesse (m/s)", "titleColor": "#0070c0", "titleFontSize": 14, "titleFontWeight": "bold", "titlePadding": 6}},
            "color": {"datum": "Vitesse du vent (Uvent)", "type": "nominal",
              "scale": {"domain": ["Vitesse du vent (Uvent)", "Direction du vent (Dvent)"], "range": ["#0070c0", "#c00000"]},
              "legend": {"orient": "none", "legendX": 52, "legendY": -36, "direction": "horizontal", "title": null, "labelFontSize": 15, "labelLimit": 400, "labelColor": "#000000", "symbolSize": 289, "labelOffset": 2, "columnPadding": 28,
                "encode": {"symbols": {"update": {
                  "shape": {"signal": "datum.value === 'Vitesse du vent (Uvent)' ? 'stroke' : 'square'"},
                  "size": {"signal": "datum.value === 'Vitesse du vent (Uvent)' ? 289 : 49"},
                  "fill": {"signal": "datum.value === 'Vitesse du vent (Uvent)' ? 'transparent' : '#c00000'"},
                  "stroke": {"signal": "datum.value === 'Vitesse du vent (Uvent)' ? '#0070c0' : '#e00000'"},
                  "strokeWidth": {"signal": "datum.value === 'Vitesse du vent (Uvent)' ? 2 : 1"},
                  "opacity": {"value": 1}
                }}}}}
          }
        },
        {
          "data": {"name": "dir"},
          "mark": {"type": "point", "shape": "square", "filled": true, "size": 36, "stroke": "#e80000", "strokeWidth": 1, "opacity": 1},
          "encoding": {
            "x": {"field": "h", "type": "quantitative"},
            "y": {"field": "D", "type": "quantitative", "scale": {"domain": [0, 360], "nice": false},
              "axis": {"orient": "right", "values": [0, 90, 180, 270, 360], "labelFontSize": 14, "labelColor": "#c00000", "tickSize": 4, "labelPadding": 12, "grid": false, "title": "Direction (°)", "titleColor": "#c00000", "titleFontSize": 14, "titleFontWeight": "bold", "titleAngle": 270, "titleBaseline": "top", "titlePadding": 8}},
            "color": {"datum": "Direction du vent (Dvent)", "type": "nominal"}
          }
        }
      ],
      "resolve": {"scale": {"y": "independent"}}
    }
  ]
}
